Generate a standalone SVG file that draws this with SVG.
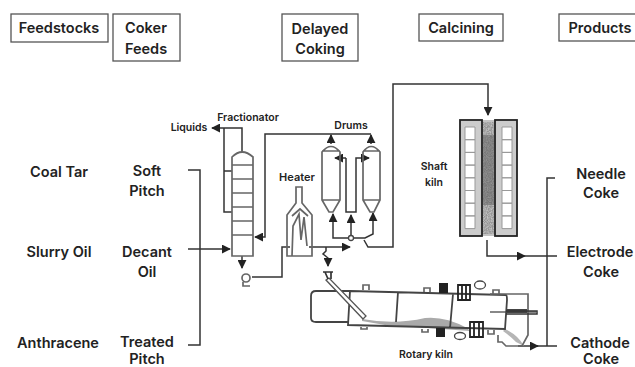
<svg xmlns="http://www.w3.org/2000/svg" width="635" height="367" viewBox="0 0 635 367">
<defs>
<marker id="a" viewBox="0 0 10 10" refX="9" refY="5" markerWidth="9" markerHeight="9" markerUnits="userSpaceOnUse" orient="auto"><path d="M0 0L10 5L0 10Z" fill="#222"/></marker>
<filter id="g" x="0" y="0" width="100%" height="100%"><feTurbulence type="fractalNoise" baseFrequency="0.8" numOctaves="2" seed="3"/><feColorMatrix values="0 0 0 0 0.3 0 0 0 0 0.3 0 0 0 0 0.3 2.2 0 0 0 -0.5"/><feComposite in2="SourceAlpha" operator="in"/></filter>
</defs>
<style>
text{font-family:"Inter","Open Sans","Liberation Sans",sans-serif;fill:#222;text-anchor:middle;font-weight:600}
.h{font-size:14.500px}.m{font-size:14.500px}.s{font-size:10.500px}
.b{fill:#fff;stroke:#555;stroke-width:1.3}
.l{fill:none;stroke:#333;stroke-width:1.500}
.t{fill:none;stroke:#666;stroke-width:1.700}
.k{fill:none;stroke:#222;stroke-width:1.800}
.w{fill:#fff;stroke:#444;stroke-width:1.300}
</style>
<rect width="635" height="367" fill="#fff"/>
<g id="hdr-feedstocks"><rect class="b" x="11" y="14" width="97" height="28"/><text class="h" x="59" y="33">Feedstocks</text></g>
<g id="hdr-coker"><rect class="b" x="113" y="14" width="67" height="47"/><text class="h" x="146" y="33">Coker</text><text class="h" x="146" y="54">Feeds</text></g>
<g id="hdr-delayed"><rect class="b" x="282" y="14" width="76" height="47"/><text class="h" x="320" y="34">Delayed</text><text class="h" x="320" y="54">Coking</text></g>
<g id="hdr-calcining"><rect class="b" x="419" y="14" width="84" height="27"/><text class="h" x="461" y="33">Calcining</text></g>
<g id="hdr-products"><rect class="b" x="559" y="14" width="80" height="27"/><text class="h" x="600" y="33">Products</text></g>

<g id="labels">
<text class="m" x="59" y="177">Coal Tar</text><text class="m" x="147" y="176">Soft</text><text class="m" x="147" y="196">Pitch</text>
<text class="m" x="59" y="257">Slurry Oil</text><text class="m" x="147" y="257">Decant</text><text class="m" x="147" y="277">Oil</text>
<text class="m" x="58" y="348">Anthracene</text><text class="m" x="147" y="347">Treated</text><text class="m" x="147" y="364">Pitch</text>
<text class="m" x="601" y="179">Needle</text><text class="m" x="601" y="198">Coke</text>
<text class="m" x="600" y="257">Electrode</text><text class="m" x="601" y="277">Coke</text>
<text class="m" x="600" y="348">Cathode</text><text class="m" x="601" y="364">Coke</text>
<text class="s" x="248" y="121">Fractionator</text><text class="s" x="189" y="131">Liquids</text><text class="s" x="351" y="129">Drums</text>
<text class="s" x="297" y="181" style="font-size:11px">Heater</text><text class="s" x="434" y="170">Shaft</text><text class="s" x="434" y="186">kiln</text>
<text class="s" x="426" y="358">Rotary kiln</text>
</g>

<g id="connectors">
<path class="l" d="M188 170H200V345H188"/>
<path class="l" d="M188 249H230" marker-end="url(#a)"/>
<path class="l" d="M242 152V128H212" marker-end="url(#a)"/>
<path class="l" d="M232 212H224V128M224 171H232"/>
<path class="l" d="M371 134H265V237H255" marker-end="url(#a)"/>
<path class="l" d="M331 144V135" marker-end="url(#a)"/>
<path class="l" d="M371 144V135" marker-end="url(#a)"/>
<path class="l" d="M242 256V268" marker-end="url(#a)"/>
<path class="l" d="M252 277H282V247H290"/>
<path class="l" d="M309 247H350" marker-end="url(#a)"/>
<path class="l" d="M326 247V251L323 254L328 258V266" marker-end="url(#a)"/>
<path class="l" d="M333 223V238H351H365L373 234V213" marker-end="url(#a)"/>
<path class="l" d="M333 223V214" marker-end="url(#a)"/>
<path class="l" d="M351 235V215" marker-end="url(#a)"/>
<path class="l" d="M346 158H335" marker-end="url(#a)"/><path class="l" d="M346 158V212H356V158H369" marker-end="url(#a)"/>
<path class="l" d="M364 240L368 247H393V84H488V115" marker-end="url(#a)"/>
<path class="l" d="M487 240V256H525" marker-end="url(#a)"/>
<path class="l" d="M525 256H557M555 178H547V346"/>
<path class="l" d="M533 346H557"/>
<path class="l" d="M518 346H538" marker-end="url(#a)"/>
</g>

<g id="fractionator">
<path class="t" d="M232 256V157Q242 147 253 157V256ZM232 165H253M232 179H253M232 193H253M232 207H253M232 221H253M232 235H253"/>
<circle class="t" cx="246" cy="278" r="4"/>
<path class="t" d="M243 282V286H250"/>
</g>
<g id="heater">
<path class="t" d="M287 256V215L296 203V187H302V203L312 215V256ZM292 256L293 226L299 214L301 240L304 217L307 246"/>
<path class="t" d="M292 216L300 209L308 216"/>
</g>
<g id="drums">
<path class="t" d="M322 200V152Q331 141 340 152V200L333 212H329Z M322 151H340M322 200H340"/>
<path class="t" d="M363 200V152Q371 141 380 152V200L374 212H370Z M363 151H380M363 200H380"/>
<circle class="w" cx="351" cy="238" r="2.500"/>
</g>
<g id="shaft-kiln">
<rect x="482" y="120" width="13" height="116" fill="#c4c4c4"/>
<rect x="483" y="122" width="11" height="112" fill="#000" filter="url(#g)"/>
<rect x="483" y="135" width="11" height="70" fill="#555" opacity=".45"/>
<rect x="460" y="121" width="22" height="115" fill="#ccc"/><rect x="495" y="121" width="22" height="115" fill="#ccc"/>
<path fill="#fff" stroke="#999" d="M465 127h10v12.700h-10zM465 139.700h10v12.700h-10zM465 152.400h10v12.700h-10zM465 165.100h10v12.700h-10zM465 177.800h10v12.700h-10zM465 190.500h10v12.700h-10zM465 203.200h10v12.700h-10zM465 215.900h10v12.700h-10zM502 127h10v12.700h-10zM502 139.700h10v12.700h-10zM502 152.400h10v12.700h-10zM502 165.100h10v12.700h-10zM502 177.800h10v12.700h-10zM502 190.500h10v12.700h-10zM502 203.200h10v12.700h-10zM502 215.900h10v12.700h-10z"/>
<rect class="k" x="460" y="120" width="22" height="116"/><rect class="k" x="495" y="120" width="22" height="116"/>
</g>
<g id="rotary-kiln">
<path d="M362 319Q395 325 425 318Q445 316 467 328L470 331L385 325L362 321Z" fill="#aaa"/>
<path d="M505 329Q518 335 524 346L516 342Q510 336 503 331Z" fill="#b5b5b5"/>
<rect x="490" y="311" width="46" height="2" fill="#888"/>
<rect x="507" y="309" width="20" height="4" fill="#444"/>
<path class="k" style="stroke:#444" d="M350 291H316Q311 291 311 296V318Q311 322 316 322H349M350 291L506 295Q507 295 507 300L505 329L348 325ZM398 292L396 322M453 294L450 328"/>
<path fill="#fff" stroke="#555" stroke-width="1.300" d="M326 280L329 278L366 316L363 319Z"/>
<path class="t" style="stroke:#333" d="M323 272H333M325 272L328 279M331 272L331 279"/>
<path class="t" d="M363 290V285H369V290M424 292V288H430V292M493 294V290H499V294M490 294H528V335L522 346H506L502 342H498V335M361 327V329H367V327M422 329V332H428V329M488 330V334H494V330"/>
<rect x="439" y="283" width="9" height="10" fill="#222"/><rect x="436" y="328" width="9" height="9" fill="#222"/>
<path class="k" d="M458 285H470V300H458ZM462 285V300M466 285V300"/>
<path class="k" d="M470 322H483V337H470ZM474 322V337M479 322V337"/>
<ellipse class="w" cx="480" cy="285" rx="5.500" ry="4"/><ellipse class="w" cx="460" cy="336" rx="5.500" ry="3.500"/>
<path class="l" d="M506 311H537V314H506"/>
</g>
</svg>
